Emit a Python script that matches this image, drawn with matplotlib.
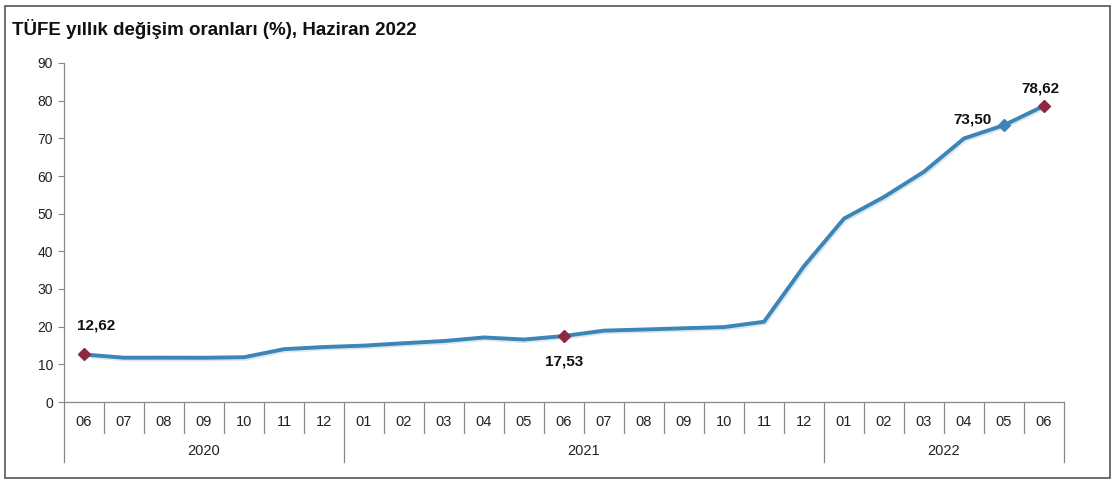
import matplotlib
matplotlib.use("Agg")
import matplotlib.pyplot as plt
from matplotlib.patches import Rectangle

plt.rcParams["font.family"] = ["Liberation Sans", "DejaVu Sans"]

months = ["06", "07", "08", "09", "10", "11", "12",
          "01", "02", "03", "04", "05", "06", "07", "08", "09", "10", "11", "12",
          "01", "02", "03", "04", "05", "06"]
years = ["2020", "2021", "2022"]
year_lengths = [7, 12, 6]
cpi = [12.62, 11.76, 11.77, 11.75, 11.89, 14.03, 14.60,
       14.97, 15.61, 16.19, 17.14, 16.59, 17.53, 18.95, 19.25, 19.58, 19.89, 21.31, 36.08,
       48.69, 54.44, 61.14, 69.97, 73.50, 78.62]
labelled = [0, 12, 23, 24]
red_points = [0, 12, 24]

W, H = 1117, 484
fig = plt.figure(figsize=(W / 100, H / 100), dpi=100)
fig.patches.append(Rectangle((5 / W, 6 / H), 1105 / W, 472 / H, transform=fig.transFigure,
                             fill=False, edgecolor="#555555", linewidth=1.2))
fig.text(12 / W, 1 - 29 / H, "TÜFE yıllık değişim oranları (%), Haziran 2022",
         fontsize=13.5, fontweight="bold", va="center", ha="left", color="#111111")

ax_left, ax_right, ax_top, ax_bottom = 64, 1064, 63, 402
ax = fig.add_axes([ax_left / W, 1 - ax_bottom / H, (ax_right - ax_left) / W, (ax_bottom - ax_top) / H])
ax_h = ax_bottom - ax_top

x = list(range(len(cpi)))
line_color = "#3b86b6"
ax.plot([v + 0.03 for v in x], [v - 0.4 for v in cpi], color="#dde6ec", linewidth=3.0,
        solid_capstyle="round", zorder=1)
ax.plot(x, cpi, color=line_color, linewidth=2.8, solid_joinstyle="round", zorder=2)
ax.plot([x[i] for i in red_points], [cpi[i] for i in red_points], linestyle="None", marker="D",
        markersize=6, color="#8b2a40", zorder=3)
ax.plot([x[23]], [cpi[23]], linestyle="None", marker="D", markersize=6, color=line_color, zorder=3)

offsets = {0: (0.3, 7.6), 12: (0.0, -6.9), 23: (-0.8, 1.5), 24: (-0.1, 4.5)}
for i in labelled:
    dx, dy = offsets[i]
    ax.text(x[i] + dx, cpi[i] + dy, f"{cpi[i]:.2f}".replace(".", ","), ha="center", va="center",
            fontsize=11, fontweight="bold", color="#111111")

ax.set_xlim(-0.5, len(cpi) - 0.5)
ax.set_ylim(0, 90)
ax.set_yticks(range(0, 91, 10))
ax.tick_params(axis="y", length=4, width=0.8, color="#888888", labelsize=10, labelcolor="#222222", pad=4)
ax.set_xticks([])
for side in ["top", "right"]:
    ax.spines[side].set_visible(False)
for side in ["left", "bottom"]:
    ax.spines[side].set_color("#888888")
    ax.spines[side].set_linewidth(0.9)

# two-level category axis: months, then years
trans = ax.get_xaxis_transform()
sep_short = -31 / ax_h
sep_long = -60 / ax_h
for i, m in enumerate(months):
    ax.text(i, -20 / ax_h, m, transform=trans, ha="center", va="center", fontsize=10.5, color="#222222")
bounds = [0]
for n in year_lengths:
    bounds.append(bounds[-1] + n)
for i in range(len(months) + 1):
    low = sep_long if i in bounds else sep_short
    ax.plot([i - 0.5, i - 0.5], [0, low], transform=trans, color="#888888", linewidth=0.9, clip_on=False)
for k, yr in enumerate(years):
    mid = (bounds[k] + bounds[k + 1]) / 2 - 0.5
    ax.text(mid, -49 / ax_h, yr, transform=trans, ha="center", va="center", fontsize=10.5, color="#222222")

fig.savefig("out.png", dpi=100)
